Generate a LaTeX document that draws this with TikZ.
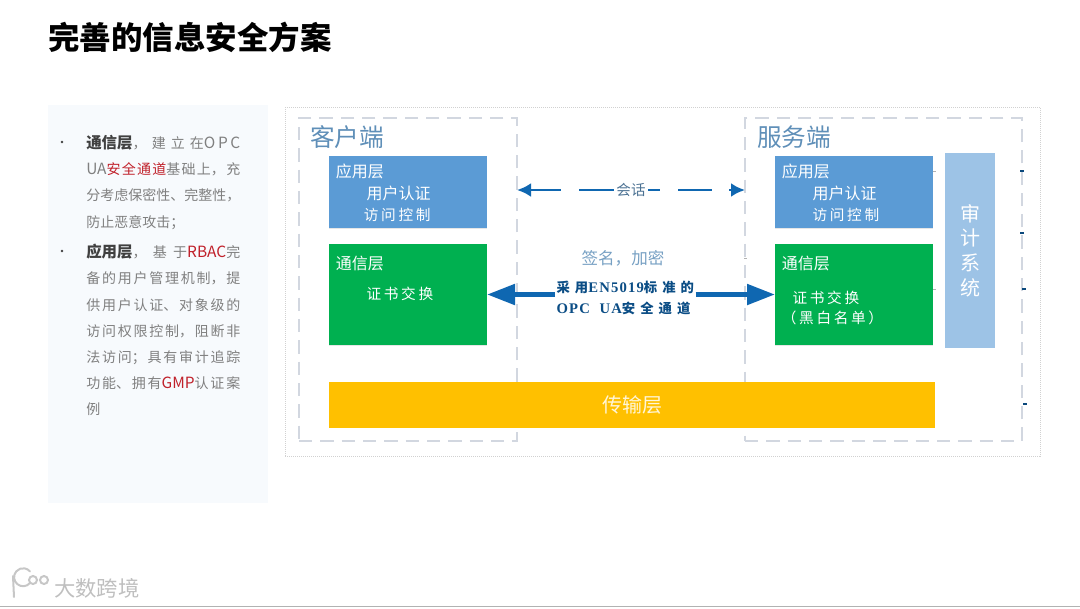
\documentclass[tikz,border=0pt]{standalone}
\usepackage{fontspec}
\setmainfont{Noto Sans CJK SC}
\newfontfamily\spaced[LetterSpace=18]{Noto Sans CJK SC}
\newfontfamily\chancjk[LetterSpace=38]{Noto Sans CJK SC}
\newfontfamily\chanlatin[LetterSpace=8]{Liberation Serif}
\usetikzlibrary{positioning,arrows.meta,calc,shadows}
\XeTeXlinebreaklocale "zh"
\XeTeXlinebreakskip=0pt plus 2pt
\definecolor{panelblue}{HTML}{F7FAFD}
\definecolor{appblue}{HTML}{5B9BD5}
\definecolor{commgreen}{HTML}{00B050}
\definecolor{auditblue}{HTML}{9DC3E6}
\definecolor{transyellow}{HTML}{FFC000}
\definecolor{arrowblue}{HTML}{0F67B1}
\definecolor{framegray}{HTML}{D2D7E0}
\definecolor{headblue}{HTML}{5F8FB8}
\definecolor{keyred}{HTML}{C0202A}
\newcommand{\hl}[1]{\textcolor{keyred}{#1}}
\newcommand{\kw}[1]{\mbox{\fontsize{11.6}{19.65}\selectfont\textcolor{black!75}{\textbf{#1}}}}
\newcommand{\lat}[1]{{\fontsize{11.6}{19.65}\selectfont #1}}
\newcommand{\sublabel}[1]{{\fontsize{11}{16}\selectfont\spaced #1}}

\begin{document}
\begin{tikzpicture}[
  x=0.75pt, y=-0.75pt,
  panel/.style={fill=panelblue, minimum width=165pt, minimum height=298.5pt,
                anchor=north west, inner sep=0pt, outer sep=0pt},
  listtext/.style={anchor=north west, inner sep=0pt, text width=115.5pt, align=justify,
                   text=black!50, font=\fontsize{10.5}{19.65}\selectfont},
  listdot/.style={circle, fill=black!75, inner sep=0pt, minimum size=2.2pt},
  frame/.style={draw=framegray, dash pattern=on 10pt off 6pt, line width=0.9pt,
                anchor=north west, inner sep=0pt, outer sep=0pt},
  layer/.style={anchor=north west, minimum width=118.5pt, inner sep=0pt, outer sep=0pt,
                drop shadow={shadow xshift=0pt, shadow yshift=-1pt, opacity=.2, fill=black!50}},
  appbox/.style={layer, fill=appblue, minimum height=54pt},
  commbox/.style={layer, fill=commgreen, minimum height=75.75pt},
  boxtext/.style={inner sep=0pt, align=left, text=white,
                  font=\fontsize{12}{16}\selectfont},
  head/.style={inner sep=0pt, text=headblue, font=\fontsize{18.5}{20}\selectfont},
  sess/.style={-{Latex[length=10.5pt,width=10.5pt]}, draw=arrowblue, line width=2.2pt},
  bigarr/.style={-{Triangle[length=21pt,width=15pt]}, draw=arrowblue, line width=3.8pt},
]
\useasboundingbox (0,0) rectangle (1080,608);

\node[anchor=west, inner sep=0pt, font=\fontsize{23.6}{26}\selectfont\bfseries] (title)
  at (48,37) {完善的信息安全方案};

% left text column
\node[panel] (textpanel) at (48,105) {};
\node[listtext] (itemcomm) at (86,135) {%
  \kw{通信层}，建立在\lat{O\,P\,C}\linebreak
  \lat{UA}\hl{安全通道}基础上，充\linebreak
  分考虑保密性、完整性，\linebreak
  防止恶意攻击；};
\node[listtext] (itemapp) at (86,244) {%
  \kw{应用层}，基于\hl{\lat{RBAC}}完\linebreak
  备的用户管理机制，提\linebreak
  供用户认证、对象级的\linebreak
  访问权限控制，阻断非\linebreak
  法访问；具有审计追踪\linebreak
  功能、拥有\hl{\lat{GMP}}认证案\linebreak
  例};
\node[listdot] (dotcomm) at (62,142) {};
\node[listdot] (dotapp) at (62,251) {};

% diagram frames
\node[draw=black!18, densely dotted, line width=0.5pt, anchor=north west, inner sep=0pt,
      minimum width=566pt, minimum height=261.75pt] (diagram) at (285,107) {};
\node[frame, minimum width=163.5pt, minimum height=242.25pt] (client) at (299,118) {};
\node[frame, minimum width=207.75pt, minimum height=242.25pt] (server) at (745,118) {};
\node[head, anchor=west] (clienthead) at (310,137) {客户端};
\node[head, anchor=west] (serverhead) at (757,137) {服务端};

% client side
\node[appbox] (clientapp) at (329,156) {};
\node[commbox, below=12pt of clientapp] (clientcomm) {};
\node[boxtext, below right=6pt and 5pt of clientapp.north west] (clientapptext) {%
  应用层\\
  \hspace{23pt}用户认证\\
  \hspace{21pt}\sublabel{访问控制}};
\node[boxtext, below right=9pt and 5pt of clientcomm.north west] (clientcommtext) {%
  通信层\\[6pt]
  \hspace{23pt}\sublabel{证书交换}};

% server side
\node[appbox] (serverapp) at (775,156) {};
\node[commbox, below=12pt of serverapp] (servercomm) {};
\node[boxtext, below right=6pt and 5pt of serverapp.north west] (serverapptext) {%
  应用层\\
  \hspace{23pt}用户认证\\
  \hspace{23pt}\sublabel{访问控制}};
\node[boxtext, below right=9pt and 5pt of servercomm.north west] (servercommtext) {%
  通信层\\[9pt]
  \hspace{8pt}\sublabel{证书交换}\\[-1pt]
  \sublabel{（黑白名单）}};
\node[anchor=north west, fill=auditblue, minimum width=37.5pt, minimum height=146.25pt,
      inner sep=0pt, outer sep=0pt, align=center, text=white,
      font=\fontsize{15}{18.5}\selectfont] (audit) at (945,153) {审\\计\\系\\统};

\node[anchor=north west, fill=transyellow, minimum width=454.5pt, minimum height=34.5pt,
      inner sep=0pt, outer sep=0pt, text=white!85!transyellow,
      font=\fontsize{15}{16}\selectfont] (transport) at (329,382) {传输层};

% middle labels
\node[inner sep=2pt, text=headblue!80!black, font=\fontsize{10.9}{12}\selectfont] (session)
  at (631,190) {会话};
\node[inner sep=0pt, text=headblue!85, font=\fontsize{12.4}{14}\selectfont] (sign)
  at (623,258) {签名，加密};
\node[inner sep=1pt, align=left, text=arrowblue!75!black, font=\fontsize{10}{15.75}\selectfont\bfseries,
      anchor=north west] (channel) at (555,279) {%
  {\chancjk 采用}{\chanlatin\fontsize{11}{15.75}\selectfont EN5019}{\chancjk 标准的}\\
  {\chanlatin\fontsize{11}{15.75}\selectfont OPC\ \ UA}{\chancjk 安全通道}};

\coordinate (sessleft) at (client.east |- session);
\coordinate (sessright) at (server.west |- session);
\draw[sess, dash pattern=on 26pt off 13.5pt on 40pt] (session.west) -- (sessleft);
\draw[sess, dash pattern=on 9pt off 13.5pt on 25pt off 13pt] (session.east) -- (sessright);
\draw[bigarr] (channel.west |- clientcomm.east) -- (clientcomm.east);
\draw[bigarr] (channel.east |- servercomm.west) -- (servercomm.west);

% stray marks along the server frame
\foreach \tx/\ty in {1022/171,1022/233,1024/289,1025/404}
  \fill[arrowblue!70!black] (\tx-2,\ty-0.7) rectangle (\tx+2,\ty+0.7);
\foreach \tx/\ty in {934/171,934/289,745/258}
  \fill[black!30] (\tx-1.5,\ty-0.5) rectangle (\tx+1.5,\ty+0.5);

% watermark
\begin{scope}[draw=black!22, line width=1.5pt, line cap=round]
  \draw (13,576) -- (14,597);
  \draw (30,583) arc[start angle=40, end angle=320, radius=9];
  \draw (33,580) circle[radius=4];
  \draw (44,580) circle[radius=4];
\end{scope}
\node[anchor=west, inner sep=0pt, text=black!25, font=\fontsize{16}{18}\selectfont] (mark)
  at (54,588) {大数跨境};
\draw[black!30, line width=0.75pt] (0,606.5) -- (1080,606.5);
\end{tikzpicture}
\end{document}
